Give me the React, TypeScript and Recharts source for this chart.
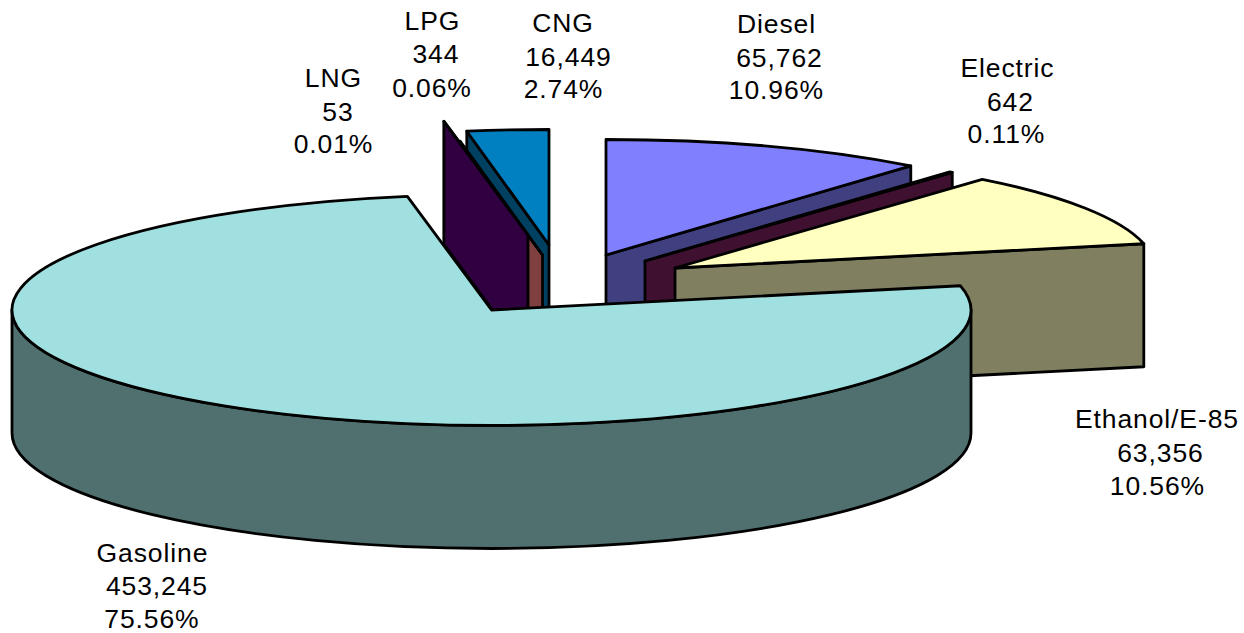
import { PieChart, Pie } from "recharts"

const categories = ["Diesel", "Electric", "Ethanol/E-85", "Gasoline", "LNG", "LPG", "CNG"]
const vehicles = [65762, 642, 63356, 453245, 53, 344, 16449]
const shares = ["10.96%", "0.11%", "10.56%", "75.56%", "0.01%", "0.06%", "2.74%"]

const data = categories.map((name, i) => ({ name, value: vehicles[i], share: shares[i] }))

// painted back to front, the gasoline slab covers the foot of everything else
const drawOrder = ["Diesel", "Electric", "Ethanol/E-85", "CNG", "LPG", "LNG", "Gasoline"]

const topColors = ["#8080ff", "#802060", "#ffffc0", "#a0e0e0", "#600080", "#ff8080", "#0080c0"]
const wallColors = ["#404080", "#401030", "#808060", "#507070", "#300040", "#804040", "#004060"]

// how far each slice is pulled out of the pie, px
const explodeX = [48, 87, 117, -66.5, -30, -15.5, -9]
const explodeY = [-32, -26, -19, 23, -52, -32, -42]

// label text: x centre per line, y baseline per line
const labelX = [
  [776, 779, 776],
  [1007, 1010, 1006],
  [1156.5, 1160, 1157],
  [152, 156.5, 151.5],
  [333, 337.5, 333],
  [432, 435.5, 431.5],
  [562.5, 568, 563],
]
const labelY = [
  [33, 66.5, 99],
  [77, 110.5, 143],
  [428, 462, 495],
  [562, 595, 628],
  [87, 120.5, 153],
  [30, 63, 96.5],
  [32, 65.5, 98],
]

const CX = 558
const CY = 287
const RX = 479.5
const TILT = 115.5 / 479.5
const DEPTH = 123
const RAD = Math.PI / 180
const TRACKING = 0.9

function SliceShape(props: any) {
  const { cx, cy, outerRadius, startAngle, endAngle, index } = props
  const ax = cx + explodeX[index]
  const ay = cy + explodeY[index]
  const ry = outerRadius * TILT
  const px = (deg: number) => ax + outerRadius * Math.cos(deg * RAD)
  const py = (deg: number) => ay - ry * Math.sin(deg * RAD)
  const large = startAngle - endAngle > 180 ? 1 : 0
  const arc = `A${outerRadius} ${ry} 0`

  const walls: string[] = []
  const radial = (deg: number) =>
    `M${ax} ${ay}L${px(deg)} ${py(deg)}L${px(deg)} ${py(deg) + DEPTH}L${ax} ${ay + DEPTH}Z`
  if (Math.cos(endAngle * RAD) > 0.001) walls.push(radial(endAngle))
  if (Math.cos(startAngle * RAD) < -0.001) walls.push(radial(startAngle))

  // rim is only seen on the front half of the ellipse
  const hi = Math.min(startAngle, 0)
  const lo = Math.max(endAngle, -180)
  if (hi > lo) {
    walls.push(
      `M${px(hi)} ${py(hi)}${arc} 0 1 ${px(lo)} ${py(lo)}L${px(lo)} ${py(lo) + DEPTH}${arc} 0 0 ${px(hi)} ${py(hi) + DEPTH}Z`
    )
  }

  return (
    <g stroke="#000" strokeWidth={2.8} strokeLinejoin="round">
      {walls.map((d) => (
        <path key={d} d={d} fill={wallColors[index]} />
      ))}
      <path
        d={`M${ax} ${ay}L${px(startAngle)} ${py(startAngle)}${arc} ${large} 1 ${px(endAngle)} ${py(endAngle)}Z`}
        fill={topColors[index]}
      />
    </g>
  )
}

function sliceLabel(props: any) {
  const { index, name, value, share } = props
  const lines = [name, value.toLocaleString("en-US"), share]
  return (
    <g key={name}>
      {lines.map((line: string, i: number) => (
        <text
          key={i}
          x={labelX[index][i] + TRACKING / 2}
          y={labelY[index][i]}
          textAnchor="middle"
          fontFamily="Liberation Sans"
          fontSize={26.5}
          letterSpacing={TRACKING}
          fill="#000"
        >
          {line}
        </text>
      ))}
    </g>
  )
}

export default function App() {
  return (
    <div style={{ position: "absolute", left: 0, top: 0 }}>
      <PieChart width={1244} height={633} margin={{ top: 0, right: 0, bottom: 0, left: 0 }}>
        {drawOrder.map((layer) => (
          <Pie
            key={layer}
            data={data}
            dataKey="value"
            nameKey="name"
            cx={CX}
            cy={CY}
            innerRadius={0}
            outerRadius={RX}
            startAngle={90}
            endAngle={-270}
            stroke="none"
            isAnimationActive={false}
            labelLine={false}
            label={layer === "Gasoline" ? sliceLabel : false}
            shape={(props: any) => (props.name === layer ? <SliceShape {...props} /> : <g />)}
          />
        ))}
      </PieChart>
    </div>
  )
}
